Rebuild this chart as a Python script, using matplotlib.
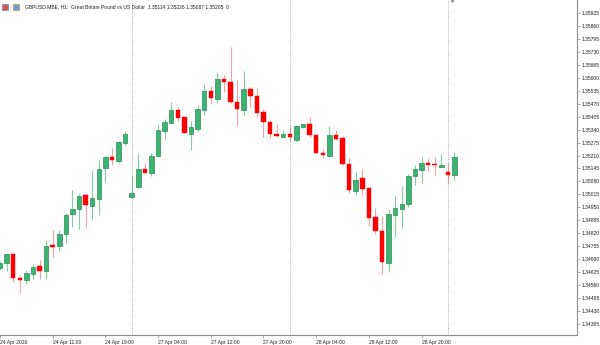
import numpy as np
import matplotlib
matplotlib.use("Agg")
import matplotlib.pyplot as plt
from matplotlib.patches import Rectangle

# GBPUSD H1 candles (bar 0 = 24 Apr 03:00)
opens = [1.34647, 1.34671, 1.34716, 1.34596, 1.34587, 1.34616, 1.34656, 1.34631, 1.34760, 1.34758,
         1.34815, 1.34917, 1.34940, 1.35011, 1.34958, 1.34994, 1.35149, 1.35201, 1.35184, 1.35274,
         1.35004, 1.35050, 1.35143, 1.35124, 1.35208, 1.35335, 1.35375, 1.35437, 1.35402, 1.35320,
         1.35343, 1.35438, 1.35534, 1.35495, 1.35595, 1.35579, 1.35479, 1.35440, 1.35545, 1.35509,
         1.35427, 1.35378, 1.35317, 1.35305, 1.35318, 1.35286, 1.35355, 1.35370, 1.35315, 1.35223,
         1.35209, 1.35313, 1.35297, 1.35168, 1.35034, 1.35099, 1.35046, 1.34900, 1.34833, 1.34673,
         1.34912, 1.34942, 1.34965, 1.35109, 1.35138, 1.35173, 1.35164, 1.35154, 1.35127, 1.35114]
highs = [1.34681, 1.34716, 1.34718, 1.34607, 1.34634, 1.34664, 1.34684, 1.34786, 1.34837, 1.34837,
         1.34920, 1.35037, 1.35019, 1.35016, 1.35138, 1.35188, 1.35208, 1.35249, 1.35281, 1.35333,
         1.35112, 1.35218, 1.35174, 1.35221, 1.35363, 1.35393, 1.35479, 1.35455, 1.35403, 1.35383,
         1.35462, 1.35570, 1.35559, 1.35629, 1.35614, 1.35756, 1.35589, 1.35634, 1.35554, 1.35547,
         1.35442, 1.35388, 1.35368, 1.35337, 1.35360, 1.35365, 1.35368, 1.35405, 1.35316, 1.35243,
         1.35357, 1.35338, 1.35308, 1.35198, 1.35126, 1.35143, 1.35047, 1.34945, 1.34905, 1.34943,
         1.35006, 1.35057, 1.35119, 1.35161, 1.35203, 1.35199, 1.35203, 1.35218, 1.35174, 1.35226]
lows = [1.34636, 1.34632, 1.34577, 1.34522, 1.34564, 1.34591, 1.34591, 1.34591, 1.34701, 1.34733,
        1.34770, 1.34853, 1.34840, 1.34853, 1.34892, 1.34912, 1.35076, 1.35164, 1.35171, 1.35264,
        1.34997, 1.35047, 1.35122, 1.35109, 1.35203, 1.35288, 1.35373, 1.35383, 1.35321, 1.35236,
        1.35335, 1.35412, 1.35469, 1.35475, 1.35530, 1.35472, 1.35365, 1.35410, 1.35455, 1.35405,
        1.35305, 1.35297, 1.35302, 1.35303, 1.35285, 1.35285, 1.35348, 1.35305, 1.35223, 1.35199,
        1.35208, 1.35288, 1.35165, 1.35021, 1.35012, 1.35011, 1.34857, 1.34818, 1.34617, 1.34624,
        1.34801, 1.34845, 1.34950, 1.35061, 1.35071, 1.35133, 1.35114, 1.35153, 1.35071, 1.35087]
closes = [1.34670, 1.34715, 1.34594, 1.34587, 1.34619, 1.34651, 1.34629, 1.34756, 1.34751, 1.34818,
          1.34913, 1.34940, 1.35009, 1.34962, 1.34996, 1.35144, 1.35203, 1.35186, 1.35276, 1.35318,
          1.35021, 1.35143, 1.35124, 1.35209, 1.35337, 1.35377, 1.35437, 1.35400, 1.35323, 1.35352,
          1.35442, 1.35534, 1.35497, 1.35595, 1.35577, 1.35480, 1.35443, 1.35545, 1.35509, 1.35425,
          1.35378, 1.35318, 1.35307, 1.35317, 1.35303, 1.35357, 1.35367, 1.35315, 1.35224, 1.35211,
          1.35312, 1.35295, 1.35168, 1.35037, 1.35086, 1.35044, 1.34898, 1.34833, 1.34675, 1.34915,
          1.34947, 1.34967, 1.35107, 1.35143, 1.35171, 1.35161, 1.35161, 1.35164, 1.35111, 1.35205]

tick_bars = [0, 8, 16, 24, 32, 40, 48, 56, 64]
tick_labels = ["24 Apr 2026", "24 Apr 11:00", "24 Apr 19:00", "27 Apr 04:00", "27 Apr 12:00",
               "27 Apr 20:00", "28 Apr 04:00", "28 Apr 12:00", "28 Apr 20:00"]
day_breaks = [20, 44, 68]
price_ticks = [1.34365 + 0.00065 * k for k in range(25)]

title = "GBPUSD.MBE, H1:  Great Britain Pound vs US Dollar  1.35114 1.35226 1.35087 1.35205  0"

bull_fill = "#3cb371"
bull_edge = "#2e8b57"
bear_fill = "#ff0000"
txt_col = "#202020"
axis_col = "#8c8c8c"
fsize = 3.6
fam = ["Liberation Sans", "DejaVu Sans"]

fig = plt.figure(figsize=(6, 3.45), dpi=100)
fig.patch.set_facecolor("white")
ax = fig.add_axes([0, 1 - 335 / 345, 577 / 600, 335 / 345])

o = np.array(opens)
h = np.array(highs)
l = np.array(lows)
c = np.array(closes)
x = np.arange(len(o))
up = c >= o

# wicks
ax.vlines(x[up], l[up], h[up], color=bull_fill, lw=0.8, alpha=0.65, zorder=2)
ax.vlines(x[~up], l[~up], h[~up], color="#e05a5a", lw=0.8, alpha=0.55, zorder=2)

# bodies (min height ~1 px so doji stay visible)
min_h = 0.00005
body_lo = np.minimum(o, c)
body_h = np.maximum(np.abs(c - o), min_h)
ax.bar(x[up], body_h[up], bottom=body_lo[up], width=0.68, color=bull_fill,
       edgecolor=bull_edge, linewidth=0.5, zorder=3)
ax.bar(x[~up], body_h[~up], bottom=body_lo[~up], width=0.68, color=bear_fill,
       edgecolor=bear_fill, linewidth=0.3, zorder=3)

# period separators
for b in day_breaks:
    ax.axvline(b, color="#9a9a9a", lw=0.6, ls=(0, (1, 1.6)), zorder=1)

ax.set_xlim(0.09, 87.6)
ax.set_ylim(1.34310, 1.35990)

for s in ["top", "left"]:
    ax.spines[s].set_visible(False)
for s in ["bottom", "right"]:
    ax.spines[s].set_color(axis_col)
    ax.spines[s].set_linewidth(0.8)

ax.yaxis.tick_right()
ax.set_yticks(price_ticks)
ax.set_yticklabels(["%.5f" % p for p in price_ticks], fontsize=fsize, color=txt_col, family=fam)
ax.tick_params(axis="y", length=2.5, width=0.5, color=axis_col, pad=0.8)

ax.set_xticks(tick_bars)
ax.set_xticklabels(tick_labels, fontsize=fsize, color=txt_col, family=fam, ha="left")
ax.tick_params(axis="x", length=2.5, width=0.5, color=axis_col, pad=1.0)

# chart shift marker at the top
ax.plot([68.6], [1.35990], marker="v", markersize=3, color="#a0a0a0", clip_on=False, zorder=5)

# header: two tiny icons then symbol text
fig.patches.append(Rectangle((2 / 600, 1 - 10 / 345), 6 / 600, 6 / 345, transform=fig.transFigure,
                             facecolor="#d9534f", edgecolor="#6a8fc0", lw=0.5))
fig.patches.append(Rectangle((13 / 600, 1 - 10 / 345), 6 / 600, 6 / 345, transform=fig.transFigure,
                             facecolor="#6a9fd8", edgecolor="#e08a3c", lw=0.5))
fig.text(25 / 600, 1 - 7 / 345, title, fontsize=fsize, color=txt_col, family=fam, va="center", ha="left")

fig.savefig("out.png", dpi=100, facecolor="white")
